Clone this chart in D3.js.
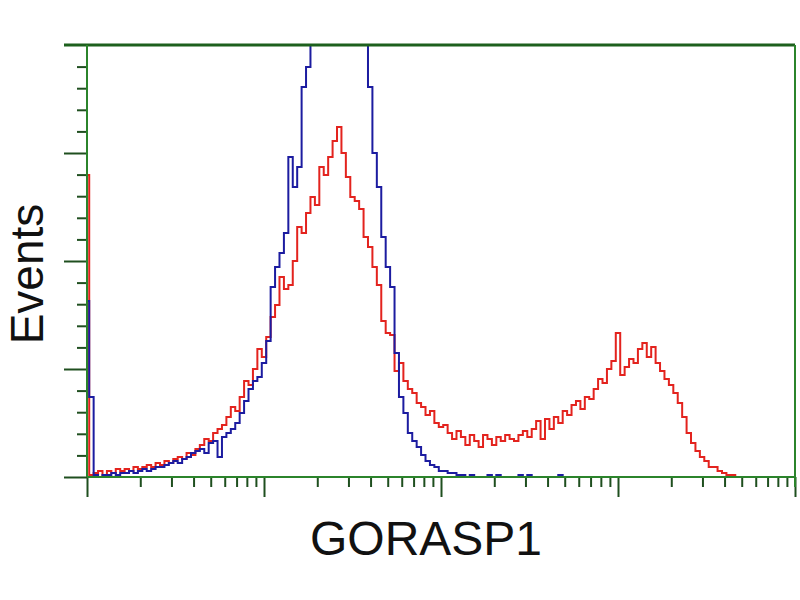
<!DOCTYPE html>
<html>
<head>
<meta charset="utf-8">
<script src="https://cdn.jsdelivr.net/npm/d3@7"></script>
<style>
  html, body { margin: 0; padding: 0; background: #ffffff; }
  svg { display: block; }
  text { font-family: "Liberation Sans", Arial, sans-serif; }
</style>
</head>
<body>
<svg id="chart" width="800" height="600"></svg>
<script>
// ---- data: 160 log channels over 4 decades (40 per decade), counts per channel ----
const channelCount = 160;
const decades = [1, 10, 100, 1000, 10000];
const xLabel = "GORASP1";
const yLabel = "Events";
const countMax = 216;

const redCounts = [
  151, 1, 2, 3, 1, 3, 2, 4, 3, 4,
  3, 5, 4, 5, 6, 5, 7, 6, 8, 7,
  9, 10, 9, 12, 11, 14, 16, 19, 18, 22,
  24, 26, 30, 35, 33, 40, 48, 46, 54, 64,
  60, 70, 80, 86, 100, 94, 96, 108, 125, 122,
  132, 140, 136, 155, 151, 160, 168, 175, 162, 150,
  140, 138, 134, 120, 115, 105, 96, 78, 72, 71,
  53, 57, 48, 44, 42, 37, 35, 31, 33, 27,
  25, 26, 22, 19, 23, 20, 16, 21, 18, 15,
  21, 19, 16, 20, 18, 21, 19, 18, 21, 23,
  20, 24, 28, 19, 29, 24, 30, 27, 33, 31,
  36, 38, 34, 40, 39, 44, 49, 47, 54, 58,
  72, 51, 55, 59, 57, 64, 67, 60, 65, 57,
  53, 49, 46, 42, 37, 30, 22, 17, 13, 10,
  8, 5, 5, 3, 2, 1, 1, 0
];

const blueCounts = [
  88, 40, 1, 0, 1, 1, 2, 1, 2, 2,
  3, 2, 3, 4, 3, 4, 5, 5, 6, 7,
  8, 7, 9, 10, 12, 13, 14, 12, 17, 18,
  10, 20, 22, 24, 27, 32, 38, 44, 48, 50,
  57, 68, 95, 105, 112, 122, 160, 145, 155, 195,
  205, 218, 260, 285, 290, 292, 288, 280, 268, 255,
  240, 232, 224, 217, 195, 162, 145, 120, 105, 95,
  62, 40, 32, 22, 18, 15, 11, 8, 6, 5,
  3, 3, 2, 2, 1, 1, 0, 1, 0, 0,
  0, 1, 0, 1, 0, 0, 0, 0, 1, 0,
  1, 0, 0, 0, 0, 0, 0, 1, 0, 0
];

// ---- layout ----
const svg = d3.select("#chart");
const mLeft = 87, mRight = 795, mTop = 45, mBottom = 477;

const xCh = d3.scaleLinear().domain([0, channelCount]).range([mLeft, mRight]);
const xLog = d3.scaleLog().domain([decades[0], decades[decades.length - 1]]).range([mLeft, mRight]);
const y = d3.scaleLinear().domain([0, countMax]).range([mBottom, mTop]);

svg.append("rect").attr("width", 800).attr("height", 600).attr("fill", "#ffffff");

svg.append("defs").append("clipPath").attr("id", "plotclip")
  .append("rect").attr("x", mLeft).attr("y", mTop).attr("width", mRight - mLeft).attr("height", mBottom - mTop);

// ---- histograms ----
const line = d3.line()
  .x((d, i) => xCh(i))
  .y(d => y(d))
  .curve(d3.curveStep);

const g = svg.append("g").attr("clip-path", "url(#plotclip)");
g.append("path").datum(redCounts)
  .attr("d", line).attr("fill", "none")
  .attr("stroke", "#e3231e").attr("stroke-width", 2).attr("stroke-linejoin", "miter");
g.append("path").datum(blueCounts)
  .attr("d", line).attr("fill", "none")
  .attr("stroke", "#1c1ca0").attr("stroke-width", 2).attr("stroke-linejoin", "miter");

// ---- axes ----
const majorX = decades;
const minorX = [];
decades.slice(0, -1).forEach(d => { for (let k = 2; k <= 9; k++) minorX.push(d * k); });

const tickColor = "#1f4f1f";
const axisColor = "#2b842b";

function styleAxis(sel) {
  sel.select(".domain").remove();
  sel.selectAll(".tick line").attr("stroke", tickColor).attr("stroke-width", 2);
  sel.selectAll(".tick text").remove();
}

svg.append("g").attr("transform", `translate(0,${mBottom})`)
  .call(d3.axisBottom(xLog).tickValues(minorX).tickSize(10).tickFormat(""))
  .call(styleAxis);
svg.append("g").attr("transform", `translate(0,${mBottom})`)
  .call(d3.axisBottom(xLog).tickValues(majorX).tickSize(20).tickFormat(""))
  .call(styleAxis);

const majorY = d3.range(0, countMax + 1, countMax / 4);
const minorY = d3.range(0, countMax + 0.01, countMax / 20).filter(v => !majorY.some(m => Math.abs(m - v) < 1e-6));

svg.append("g").attr("transform", `translate(${mLeft},0)`)
  .call(d3.axisLeft(y).tickValues(minorY).tickSize(10).tickFormat(""))
  .call(styleAxis);
svg.append("g").attr("transform", `translate(${mLeft},0)`)
  .call(d3.axisLeft(y).tickValues(majorY.filter(v => v < countMax)).tickSize(23).tickFormat(""))
  .call(styleAxis);

// frame lines
svg.append("line").attr("x1", 64).attr("x2", mRight).attr("y1", mTop).attr("y2", mTop)
  .attr("stroke", "#1d601d").attr("stroke-width", 3);
svg.append("line").attr("x1", mLeft).attr("x2", mLeft).attr("y1", mTop).attr("y2", mBottom)
  .attr("stroke", axisColor).attr("stroke-width", 2);
svg.append("line").attr("x1", mLeft).attr("x2", mRight).attr("y1", mBottom).attr("y2", mBottom)
  .attr("stroke", axisColor).attr("stroke-width", 2);
svg.append("line").attr("x1", mRight).attr("x2", mRight).attr("y1", mTop).attr("y2", mBottom + 10)
  .attr("stroke", axisColor).attr("stroke-width", 2);

// ---- labels ----
svg.append("text").text(xLabel)
  .attr("x", (mLeft + mRight) / 2 - 15).attr("y", 555)
  .attr("text-anchor", "middle").attr("font-size", 48).attr("fill", "#111");
svg.append("text").text(yLabel)
  .attr("transform", "translate(43,274) rotate(-90)")
  .attr("text-anchor", "middle").attr("font-size", 46).attr("fill", "#111");
</script>
</body>
</html>
